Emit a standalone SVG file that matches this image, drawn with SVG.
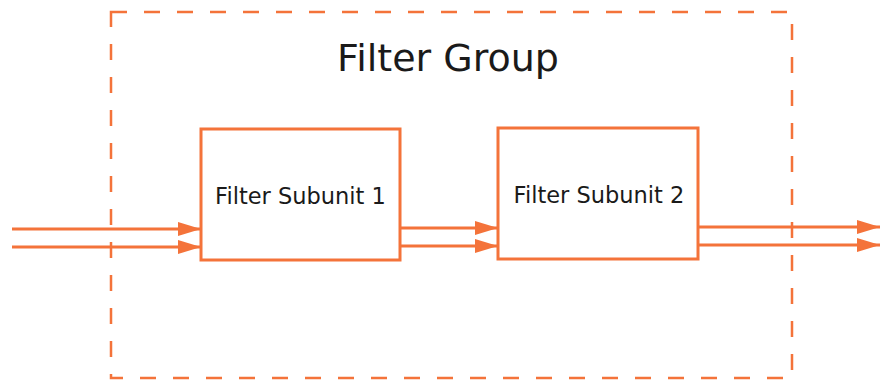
<svg xmlns="http://www.w3.org/2000/svg" width="880" height="381" viewBox="0 0 880 381">
<style>
.grp{fill:none;stroke:#F4733A;stroke-width:2.5;stroke-dasharray:16 17}
.box{fill:#fff;stroke:#F4733A;stroke-width:3}
.ln{fill:none;stroke:#F4733A;stroke-width:3}
.t{font-family:"DejaVu Sans","Liberation Sans",sans-serif;fill:#1a1a1a;text-anchor:middle}
</style>
<defs>
<marker id="ah" markerUnits="userSpaceOnUse" markerWidth="24" markerHeight="14" refX="23" refY="7" orient="auto">
<path d="M0,0 L23,7 L0,14 Z" fill="#F4733A"/>
</marker>
</defs>
<g id="group">
<rect class="grp" x="111" y="12" width="681" height="366"/>
<text class="t" x="448" y="71" font-size="38">Filter Group</text>
</g>
<g id="connectors">
<line class="ln" x1="12" y1="229" x2="201" y2="229" marker-end="url(#ah)"/>
<line class="ln" x1="12" y1="247" x2="201" y2="247" marker-end="url(#ah)"/>
<line class="ln" x1="400" y1="228" x2="498" y2="228" marker-end="url(#ah)"/>
<line class="ln" x1="400" y1="246" x2="498" y2="246" marker-end="url(#ah)"/>
<line class="ln" x1="698" y1="227" x2="880" y2="227" marker-end="url(#ah)"/>
<line class="ln" x1="698" y1="245" x2="880" y2="245" marker-end="url(#ah)"/>
</g>
<g id="subunit1">
<rect class="box" x="201" y="129" width="199" height="131"/>
<text class="t" x="300.5" y="204" font-size="22.5">Filter Subunit 1</text>
</g>
<g id="subunit2">
<rect class="box" x="498" y="128" width="200" height="131"/>
<text class="t" x="599" y="203" font-size="22.5">Filter Subunit 2</text>
</g>
</svg>
